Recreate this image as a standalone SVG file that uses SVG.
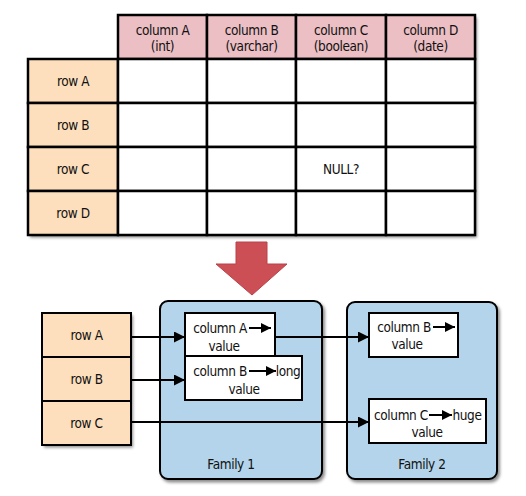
<svg xmlns="http://www.w3.org/2000/svg" width="526" height="496" viewBox="0 0 526 496">
<defs>
<filter id="sh" x="-10%" y="-10%" width="130%" height="130%">
<feDropShadow dx="2" dy="2.5" stdDeviation="1.5" flood-color="#000" flood-opacity="0.45"/>
</filter>
<marker id="ah" viewBox="0 0 10 10" refX="10" refY="5" markerWidth="10" markerHeight="10" markerUnits="userSpaceOnUse" orient="auto">
<path d="M0,0 L10,5 L0,10 z" fill="#000"/>
</marker>
<marker id="ahb" viewBox="0 0 10 10" refX="10" refY="5" markerWidth="11" markerHeight="11" markerUnits="userSpaceOnUse" orient="auto">
<path d="M0,0 L10,5 L0,10 z" fill="#000"/>
</marker>
</defs>
<style>
text{font-family:"Liberation Sans Narrow","DejaVu Sans Condensed",sans-serif;font-size:13.5px;letter-spacing:-0.4px;fill:#111;text-anchor:middle}
.hdr{fill:#ebbfc4;stroke:#000;stroke-width:2.5}
.row{fill:#fddfbd;stroke:#000;stroke-width:2.5}
.cell{fill:#fff;stroke:#000;stroke-width:2.5}
.fam{fill:#b3d4ea;stroke:#000;stroke-width:2}
.val{fill:#fff;stroke:#000;stroke-width:2}
.rb{fill:#fddfbd;stroke:#000;stroke-width:2}
.conn{stroke:#000;stroke-width:2;fill:none}
.ia{stroke:#000;stroke-width:2;fill:none}
</style>

<g id="table">
<g filter="url(#sh)">
<rect x="118" y="15" width="357" height="44" fill="#000"/>
<rect x="28" y="59" width="447" height="176" fill="#000"/>
</g>
<g id="header">
<rect class="hdr" x="118" y="15" width="89" height="44"/>
<rect class="hdr" x="207" y="15" width="89" height="44"/>
<rect class="hdr" x="296" y="15" width="90" height="44"/>
<rect class="hdr" x="386" y="15" width="89" height="44"/>
<text x="162.5" y="35">column A</text><text x="162.5" y="51">(int)</text>
<text x="251.5" y="35">column B</text><text x="251.5" y="51">(varchar)</text>
<text x="341" y="35">column C</text><text x="341" y="51">(boolean)</text>
<text x="430.5" y="35">column D</text><text x="430.5" y="51">(date)</text>
</g>
<g id="rowlabels">
<rect class="row" x="28" y="59" width="90" height="44"/>
<rect class="row" x="28" y="103" width="90" height="44"/>
<rect class="row" x="28" y="147" width="90" height="44"/>
<rect class="row" x="28" y="191" width="90" height="44"/>
<text x="73" y="86">row A</text>
<text x="73" y="130">row B</text>
<text x="73" y="174">row C</text>
<text x="73" y="218">row D</text>
</g>
<g id="cells">
<rect class="cell" x="118" y="59" width="89" height="44"/><rect class="cell" x="207" y="59" width="89" height="44"/><rect class="cell" x="296" y="59" width="90" height="44"/><rect class="cell" x="386" y="59" width="89" height="44"/>
<rect class="cell" x="118" y="103" width="89" height="44"/><rect class="cell" x="207" y="103" width="89" height="44"/><rect class="cell" x="296" y="103" width="90" height="44"/><rect class="cell" x="386" y="103" width="89" height="44"/>
<rect class="cell" x="118" y="147" width="89" height="44"/><rect class="cell" x="207" y="147" width="89" height="44"/><rect class="cell" x="296" y="147" width="90" height="44"/><rect class="cell" x="386" y="147" width="89" height="44"/>
<rect class="cell" x="118" y="191" width="89" height="44"/><rect class="cell" x="207" y="191" width="89" height="44"/><rect class="cell" x="296" y="191" width="90" height="44"/><rect class="cell" x="386" y="191" width="89" height="44"/>
<text x="341" y="174">NULL?</text>
</g>
</g>

<g id="bigarrow">
<path d="M236,242 L267,242 L267,264 L287,264 L252,295 L216,264 L236,264 Z" fill="#cd4f56" stroke="#b8434a" stroke-width="1"/>
</g>

<g id="rows">
<g filter="url(#sh)"><rect x="42" y="313" width="89" height="132" fill="#000"/></g>
<g id="rowA"><rect class="rb" x="42" y="313" width="89" height="44"/><text x="86.5" y="340">row A</text></g>
<g id="rowB"><rect class="rb" x="42" y="357" width="89" height="44"/><text x="86.5" y="384">row B</text></g>
<g id="rowC"><rect class="rb" x="42" y="401" width="89" height="44"/><text x="86.5" y="428">row C</text></g>
</g>

<g id="family1">
<rect class="fam" x="160" y="301" width="162" height="178" rx="8" filter="url(#sh)"/>
<text x="231" y="469">Family 1</text>
</g>
<g id="family2">
<rect class="fam" x="347" y="302" width="150" height="177" rx="8" filter="url(#sh)"/>
<text x="422" y="469">Family 2</text>
</g>

<g id="f1colA">
<rect class="val" x="185" y="313" width="90" height="44"/>
<text x="220" y="333">column A</text>
<line class="ia" x1="249" y1="328" x2="271" y2="328" marker-end="url(#ah)"/>
<text x="224" y="351">value</text>
</g>
<g id="f1colB">
<rect class="val" x="185" y="356" width="117" height="44"/>
<text x="220" y="376">column B</text>
<line class="ia" x1="249" y1="371" x2="276" y2="371" marker-end="url(#ah)"/>
<text x="288" y="376">long</text>
<text x="244" y="394">value</text>
</g>
<g id="f2colB">
<rect class="val" x="369" y="313" width="89" height="44"/>
<text x="404" y="332">column B</text>
<line class="ia" x1="433" y1="327" x2="455" y2="327" marker-end="url(#ah)"/>
<text x="407" y="349">value</text>
</g>
<g id="f2colC">
<rect class="val" x="369" y="399" width="117" height="44"/>
<text x="401" y="420">column C</text>
<line class="ia" x1="429" y1="415" x2="452" y2="415" marker-end="url(#ah)"/>
<text x="467" y="420">huge</text>
<text x="427" y="437">value</text>
</g>

<g id="connectors">
<line class="conn" x1="131" y1="337" x2="185" y2="337" marker-end="url(#ahb)"/>
<line class="conn" x1="131" y1="380" x2="185" y2="380" marker-end="url(#ahb)"/>
<line class="conn" x1="275" y1="337" x2="369" y2="337" marker-end="url(#ahb)"/>
<line class="conn" x1="131" y1="422" x2="369" y2="422" marker-end="url(#ahb)"/>
</g>
</svg>
